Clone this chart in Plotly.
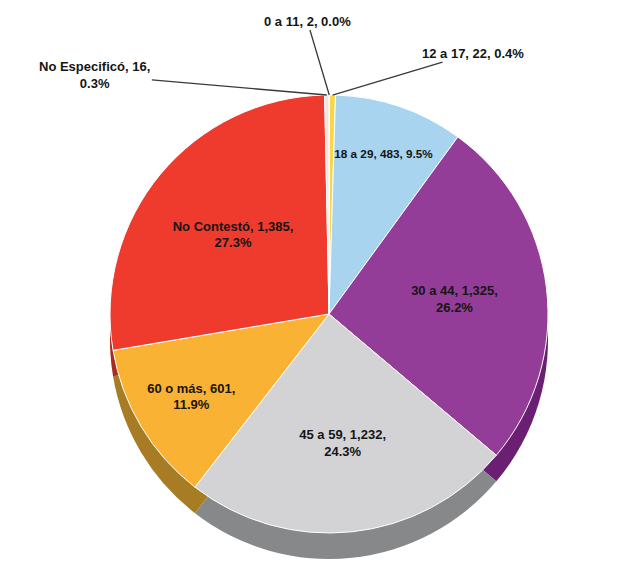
import math
import plotly.graph_objects as go

# Age groups and counts
labels = ["0 a 11", "12 a 17", "18 a 29", "30 a 44", "45 a 59",
          "60 o más", "No Contestó", "No Especificó"]
values = [2, 22, 483, 1325, 1232, 601, 1385, 16]
line_breaks = [" ", " ", " ", "<br>", "<br>", "<br>", "<br>", "<br>"]

top_colors = ["#E8E0F0", "#F7D64A", "#A8D4F0", "#933D99", "#D3D3D5",
              "#F9B233", "#EE3B2E", "#F4E4E0"]
side_colors = ["#B0A8B8", "#B89A30", "#7E9FB4", "#6B1F72", "#86888A",
               "#A77C25", "#A82A20", "#B8A8A4"]

W, H = 621, 571
cx, top_y, radius, depth = 329, 95, 219, 26

total = sum(values)
texts = [f"{lab}, {val:,},{br}{val / total:.1%}"
         for lab, val, br in zip(labels, values, line_breaks)]
small = [v / total < 0.01 for v in values]
inside_text = ["" if s else t for s, t in zip(small, texts)]

label_font = dict(family="Liberation Sans", size=13, color="#151515",
                  weight="bold")


def dom(y0_px):
    return dict(x=[(cx - radius) / W, (cx + radius) / W],
                y=[1 - (y0_px + 2 * radius) / H, 1 - y0_px / H])


fig = go.Figure()
# darker copy underneath gives the pie its edge
fig.add_trace(go.Pie(
    labels=labels, values=values, sort=False, direction="clockwise",
    rotation=0, domain=dom(top_y + depth), textinfo="none",
    marker=dict(colors=side_colors, line=dict(color="#FFFFFF", width=0)),
    hoverinfo="skip", showlegend=False,
))
fig.add_trace(go.Pie(
    labels=labels, values=values, sort=False, direction="clockwise",
    rotation=0, domain=dom(top_y), text=inside_text, textinfo="text",
    textposition="inside", insidetextorientation="horizontal",
    textfont=label_font,
    marker=dict(colors=top_colors, line=dict(color="#FFFFFF", width=1)),
    hoverinfo="label+value+percent", showlegend=False,
))

# leader-line labels for the thin slices near the top
offsets = {0: (-22, -74), 1: (140, -42), 7: (-232, -20)}
cum = 0
for i, v in enumerate(values):
    mid = (cum + v / 2) / total * 2 * math.pi
    cum += v
    if not small[i]:
        continue
    px = cx + radius * math.sin(mid)
    py = top_y + radius - radius * math.cos(mid)
    ax, ay = offsets[i]
    fig.add_annotation(
        x=px / W, y=1 - py / H, xref="paper", yref="paper",
        text=texts[i],
        showarrow=True, arrowhead=0, arrowwidth=1.3, arrowcolor="#3A3A3A",
        ax=ax, ay=ay, standoff=0,
        font=label_font,
        bgcolor="rgba(255,255,255,0.9)",
    )

fig.update_layout(
    width=W, height=H, margin=dict(l=0, r=0, t=0, b=0),
    paper_bgcolor="#FFFFFF", plot_bgcolor="#FFFFFF",
    font=dict(family="Liberation Sans", size=13, color="#151515"),
)
fig.write_html("out.html")
